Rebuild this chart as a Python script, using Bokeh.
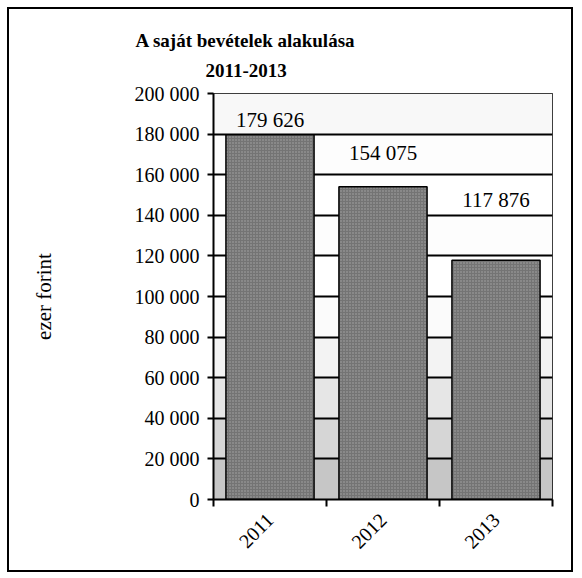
import math
from bokeh.plotting import figure
from bokeh.models import FixedTicker, Title, Label
from bokeh.embed import file_html
from bokeh.resources import INLINE

# ---- data ----
years = ["2011", "2012", "2013"]
revenue = [179626, 154075, 117876]
y_ticks = [0, 20000, 40000, 60000, 80000, 100000, 120000, 140000, 160000, 180000, 200000]
y_tick_labels = ["0", "20 000", "40 000", "60 000", "80 000", "100 000", "120 000",
                 "140 000", "160 000", "180 000", "200 000"]
title_line1 = "A saját bevételek alakulása"
title_line2 = "2011-2013"
y_label = "ezer forint"

# ---- styling ----
FONT = "Liberation Serif"
band_colors = ["#c6c6c6", "#d6d6d6", "#e6e6e6", "#f3f3f3", "#fbfbfb",
               "#ffffff", "#fdfdfd", "#ffffff", "#fdfdfd", "#f8f8f8"]
label_offsets = [15, 34, 60]

x_pos = [i + 0.5 for i in range(len(years))]

p = figure(width=566, height=565, x_range=(0, len(years)), y_range=(y_ticks[0], y_ticks[-1]),
           output_backend="svg", toolbar_location=None, title=None,
           min_border_left=204, min_border_right=23, min_border_top=84, min_border_bottom=75)
p.styles = {"border": "2px solid black", "margin-left": "7px", "margin-top": "7px"}
p.background_fill_color = "white"
p.border_fill_color = "white"
p.outline_line_color = "black"
p.outline_line_width = 1

# background bands
p.quad(left=0, right=len(years), bottom=y_ticks[:-1], top=y_ticks[1:],
       fill_color=band_colors, line_color=None, level="image")

# grid
p.xgrid.visible = False
p.ygrid.ticker = FixedTicker(ticks=y_ticks)
p.ygrid.grid_line_color = "black"
p.ygrid.grid_line_width = 2

# bars
p.vbar(x=x_pos, top=revenue, width=0.78, fill_color="#747474", line_color="black",
       line_width=1.5, hatch_pattern="dot", hatch_color="#a8a8a8", hatch_scale=3, hatch_weight=1)

# value labels
for x, v, off in zip(x_pos, revenue, label_offsets):
    p.add_layout(Label(x=x, y=v, y_offset=off, text=f"{v:,}".replace(",", " "),
                       text_align="center", text_baseline="middle",
                       text_font=FONT, text_font_size="21px", text_color="black"))

# y axis
p.yaxis.ticker = FixedTicker(ticks=y_ticks)
p.yaxis.major_label_overrides = dict(zip(y_ticks, y_tick_labels))
p.yaxis.axis_line_width = 2
p.yaxis.axis_line_color = "black"
p.yaxis.major_tick_out = 6
p.yaxis.major_tick_in = 0
p.yaxis.major_tick_line_width = 2
p.yaxis.minor_tick_line_color = None
p.yaxis.major_label_standoff = 8
p.yaxis.major_label_text_font = FONT
p.yaxis.major_label_text_font_size = "20px"
p.yaxis.major_label_text_color = "black"
p.yaxis.axis_label = y_label
p.yaxis.axis_label_standoff = 76
p.yaxis.axis_label_text_font = FONT
p.yaxis.axis_label_text_font_size = "21px"
p.yaxis.axis_label_text_font_style = "normal"
p.yaxis.axis_label_text_color = "black"

# x axis
p.xaxis.ticker = FixedTicker(ticks=x_pos, minor_ticks=list(range(len(years) + 1)))
p.xaxis.major_label_overrides = dict(zip(x_pos, years))
p.xaxis.axis_line_width = 2
p.xaxis.axis_line_color = "black"
p.xaxis.major_tick_out = 0
p.xaxis.major_tick_in = 0
p.xaxis.minor_tick_out = 7
p.xaxis.minor_tick_in = 0
p.xaxis.minor_tick_line_color = "black"
p.xaxis.minor_tick_line_width = 2
p.xaxis.major_label_orientation = math.pi / 4
p.xaxis.major_label_standoff = 10
p.xaxis.major_label_text_font = FONT
p.xaxis.major_label_text_font_size = "20px"
p.xaxis.major_label_text_color = "black"

# titles
t2 = Title(text=title_line2, align="left", offset=-8, standoff=34,
           text_font=FONT, text_font_size="19px", text_font_style="bold", text_color="black")
t1 = Title(text=title_line1, align="left", offset=-78, standoff=-12,
           text_font=FONT, text_font_size="19px", text_font_style="bold", text_color="black")
p.add_layout(t2, "above")
p.add_layout(t1, "above")

open("out.html", "w").write(file_html(p, INLINE))
